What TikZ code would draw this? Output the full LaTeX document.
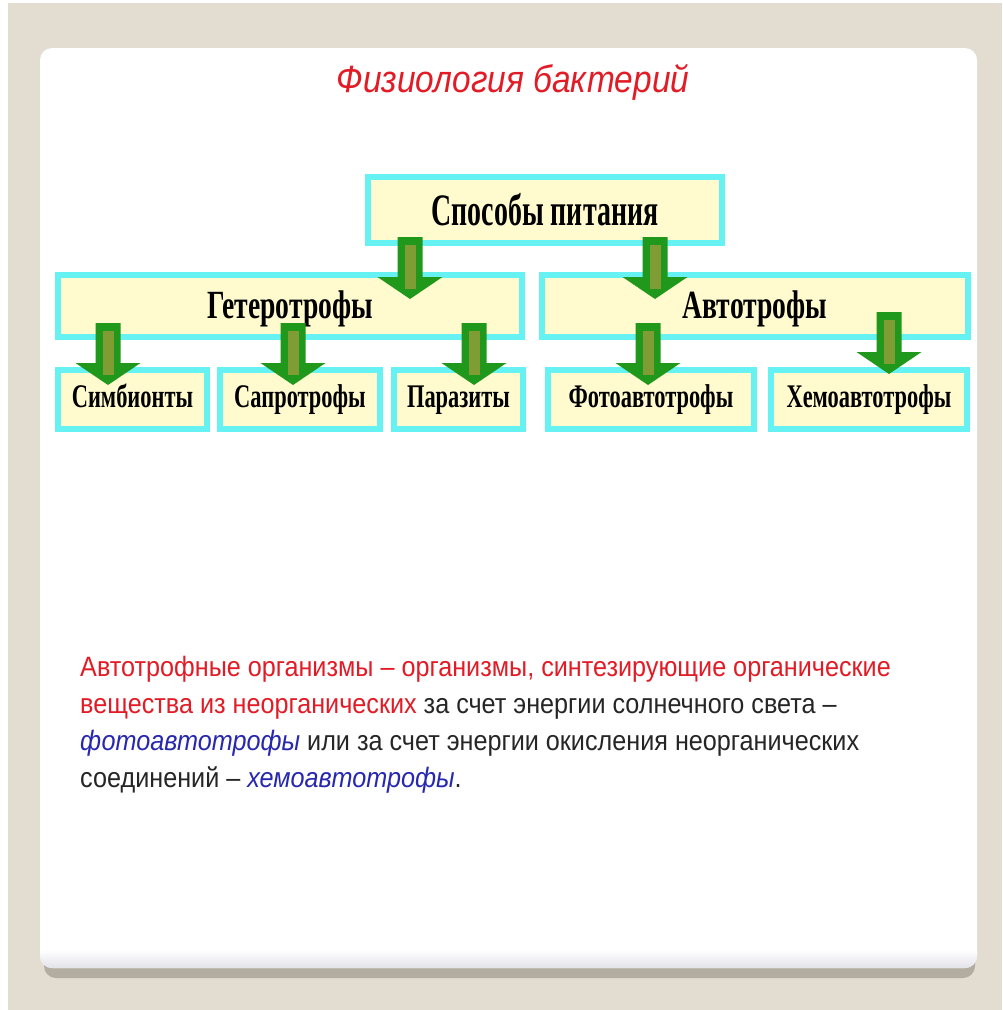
\documentclass[tikz,border=0pt]{standalone}
\usepackage{fontspec}
\setmainfont{Liberation Serif}
\newfontfamily\boxfont[FakeStretch=0.62]{Liberation Serif}
\newfontfamily\midfont[FakeStretch=0.69]{Liberation Serif}
\newfontfamily\lowfont[FakeStretch=0.68]{Liberation Serif}
\newfontfamily\parafont[FakeStretch=0.9]{Liberation Sans}
\newfontfamily\titlefont[FakeStretch=0.88]{Liberation Sans}
\usetikzlibrary{positioning}
\definecolor{pagebeige}{RGB}{227,221,209}
\definecolor{shadowgray}{RGB}{178,173,160}
\definecolor{boxcyan}{RGB}{102,242,242}
\definecolor{boxyellow}{RGB}{255,251,206}
\definecolor{arrowgreen}{RGB}{32,152,28}
\definecolor{arrowolive}{RGB}{128,156,52}
\definecolor{titlered}{RGB}{226,28,38}
\definecolor{textblue}{RGB}{40,40,175}
\definecolor{textgray}{RGB}{38,38,38}
\tikzset{
    tbox/.style={draw=boxcyan, fill=boxyellow, line width=6pt, inner sep=0pt},
    topbox/.style={tbox, minimum width=354pt, minimum height=66pt,
        font=\boxfont\bfseries\fontsize{45}{50}\selectfont},
    midbox/.style={tbox, minimum height=62pt, text height=34pt, text depth=10pt,
        font=\midfont\bfseries\fontsize{40}{44}\selectfont},
    lowbox/.style={tbox, minimum height=59pt, text height=23pt, text depth=8pt,
        font=\lowfont\bfseries\fontsize{33}{36}\selectfont},
    downarrow/.pic={
        \fill[arrowgreen] (-12.5,0) -- (12.5,0) -- (12.5,40) -- (32.5,40)
            -- (0,62) -- (-32.5,40) -- (-12.5,40) -- cycle;
        \fill[arrowolive] (-5.5,8) rectangle (5.5,52);
    }
}
\begin{document}
\begin{tikzpicture}[x=1pt, y=-1pt]
    \useasboundingbox (0,0) rectangle (1002,1010);
    \fill[white] (0,0) rectangle (1002,1010);
    \fill[pagebeige] (8,3) rectangle (1002,1010);

    % slide card with its shadow
    \fill[shadowgray, rounded corners=12pt] (44,60) rectangle (975,978);
    \fill[white, rounded corners=12pt] (40,48) rectangle (977,968);
    \begin{scope}
        \clip[rounded corners=12pt] (40,48) rectangle (977,968);
        \shade[top color=white, bottom color={rgb,255:red,226;green,226;blue,234}]
            (40,950) rectangle (977,968);
    \end{scope}

    \node[text=titlered, font=\titlefont\itshape\fontsize{38}{42}\selectfont]
        (title) at (513,82) {Физиология бактерий};

    % scheme
    \node[topbox] (feed) at (545,210) {Способы питания};
    \node[midbox, minimum width=464pt] (hetero) at (290,306) {Гетеротрофы};
    \node[midbox, minimum width=426pt] (auto) at (755,306) {Автотрофы};
    \node[lowbox, minimum width=149pt] (sym) at (132.5,399.5) {Симбионты};
    \node[lowbox, minimum width=160pt] (sapro) at (300,399.5) {Сапротрофы};
    \node[lowbox, minimum width=129pt] (para) at (458.5,399.5) {Паразиты};
    \node[lowbox, minimum width=206pt] (photo) at (651,399.5) {Фотоавтотрофы};
    \node[lowbox, minimum width=196pt] (chemo) at (869,399.5) {Хемоавтотрофы};

    \pic at (410,237) {downarrow};
    \pic at (655,237) {downarrow};
    \pic at (108,323) {downarrow};
    \pic at (293,323) {downarrow};
    \pic at (474,323) {downarrow};
    \pic at (648,323) {downarrow};
    \pic at (889,312) {downarrow};

    % definition text
    \node[anchor=north west, align=left, inner sep=0pt, text=textgray,
        font=\parafont\fontsize{28}{37}\selectfont] (defn) at (80,656)
        {\textcolor{titlered}{Автотрофные организмы – организмы, синтезирующие органические}\\
         \textcolor{titlered}{вещества из неорганических} за счет энергии солнечного света –\\
         \textcolor{textblue}{\itshape фотоавтотрофы} или за счет энергии окисления неорганических\\
         соединений – \textcolor{textblue}{\itshape хемоавтотрофы}.};
\end{tikzpicture}
\end{document}
